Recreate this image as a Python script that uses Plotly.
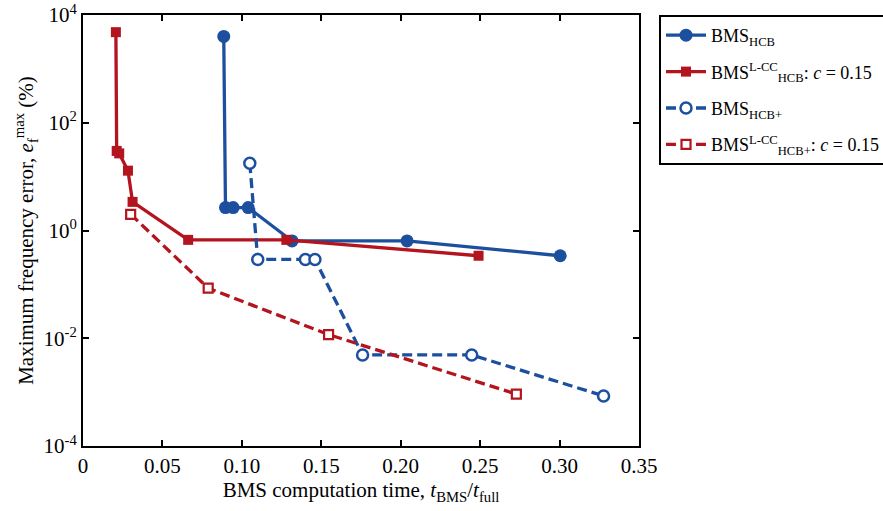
import plotly.graph_objects as go

# Data
bms_hcb_x = [0.0886, 0.0897, 0.0945, 0.1040, 0.1316, 0.2040, 0.3004]
bms_hcb_y = [4000, 2.66, 2.66, 2.66, 0.64, 0.64, 0.34]

lcc_hcb_x = [0.0207, 0.0212, 0.0228, 0.0283, 0.0312, 0.0662, 0.1280, 0.2490]
lcc_hcb_y = [4800, 30, 27, 12.9, 3.4, 0.67, 0.67, 0.34]

bms_hcbp_x = [0.1050, 0.1100, 0.1400, 0.1460, 0.1760, 0.2447, 0.3277]
bms_hcbp_y = [17.7, 0.29, 0.29, 0.29, 0.0049, 0.0049, 0.00085]

lcc_hcbp_x = [0.0300, 0.0788, 0.1546, 0.2728]
lcc_hcbp_y = [2.0, 0.085, 0.0117, 0.00092]

x_tickvals = [0, 0.05, 0.10, 0.15, 0.20, 0.25, 0.30, 0.35]
x_ticktext = ["0", "0.05", "0.10", "0.15", "0.20", "0.25", "0.30", "0.35"]
y_tickvals = [1e-4, 1e-2, 1, 1e2, 1e4]
y_ticktext = ["10<sup>-4</sup>", "10<sup>-2</sup>", "10<sup>0</sup>", "10<sup>2</sup>", "10<sup>4</sup>"]

BLUE = "#1d4f9f"
RED = "#b3141d"
FONT = "Liberation Serif"
DASH = "10px,5px"

fig = go.Figure()
fig.add_trace(go.Scatter(
    x=bms_hcb_x, y=bms_hcb_y, mode="lines+markers",
    name="BMS<sub>HCB</sub>", legendgroup="g1",
    line=dict(color=BLUE, width=3.3),
    marker=dict(symbol="circle", size=13, color=BLUE),
))
fig.add_trace(go.Scatter(
    x=lcc_hcb_x, y=lcc_hcb_y, mode="lines+markers",
    name="BMS<sup>L-CC</sup><sub>HCB</sub>: <i>c</i> = 0.15", legendgroup="g2",
    line=dict(color=RED, width=3.3),
    marker=dict(symbol="square", size=10, color=RED),
))
fig.add_trace(go.Scatter(
    x=bms_hcbp_x, y=bms_hcbp_y, mode="lines+markers",
    name="BMS<sub>HCB+</sub>", legendgroup="g3",
    line=dict(color=BLUE, width=3.3, dash=DASH),
    marker=dict(symbol="circle", size=11, color="white", line=dict(color=BLUE, width=2.5)),
))
fig.add_trace(go.Scatter(
    x=lcc_hcbp_x, y=lcc_hcbp_y, mode="lines+markers",
    name="BMS<sup>L-CC</sup><sub>HCB+</sub>: <i>c</i> = 0.15", legendgroup="g4",
    line=dict(color=RED, width=3.3, dash=DASH),
    marker=dict(symbol="square", size=9, color="white", line=dict(color=RED, width=2.2)),
))

axis_common = dict(
    showline=True, linecolor="black", linewidth=2, mirror="ticks",
    ticks="inside", ticklen=6, tickwidth=2, tickcolor="black",
    showgrid=False, zeroline=False,
    tickfont=dict(family=FONT, size=21, color="black"),
)

fig.update_layout(
    width=883, height=511,
    margin=dict(l=83, r=244, t=15, b=65, autoexpand=False),
    paper_bgcolor="white", plot_bgcolor="white",
    font=dict(family=FONT, size=21, color="black"),
    xaxis=dict(
        range=[0, 0.35], tickvals=x_tickvals, ticktext=x_ticktext,
        title=dict(text="BMS computation time, <i>t</i><sub>BMS</sub>/<i>t</i><sub>full</sub>",
                   font=dict(family=FONT, size=21), standoff=2),
        **axis_common,
    ),
    yaxis=dict(
        type="log", range=[-4, 4], tickvals=y_tickvals, ticktext=y_ticktext,
        title=dict(text="Maximum frequency error, <i>e</i><sub>f</sub><sup>max</sup> (%)",
                   font=dict(family=FONT, size=21), standoff=4),
        **axis_common,
    ),
    legend=dict(
        x=1.036, y=1.0, xanchor="left", yanchor="top",
        bordercolor="black", borderwidth=2, bgcolor="white",
        font=dict(family=FONT, size=18, color="black"),
        tracegroupgap=10, itemwidth=40,
    ),
    showlegend=True,
)

fig.write_html("out.html")
